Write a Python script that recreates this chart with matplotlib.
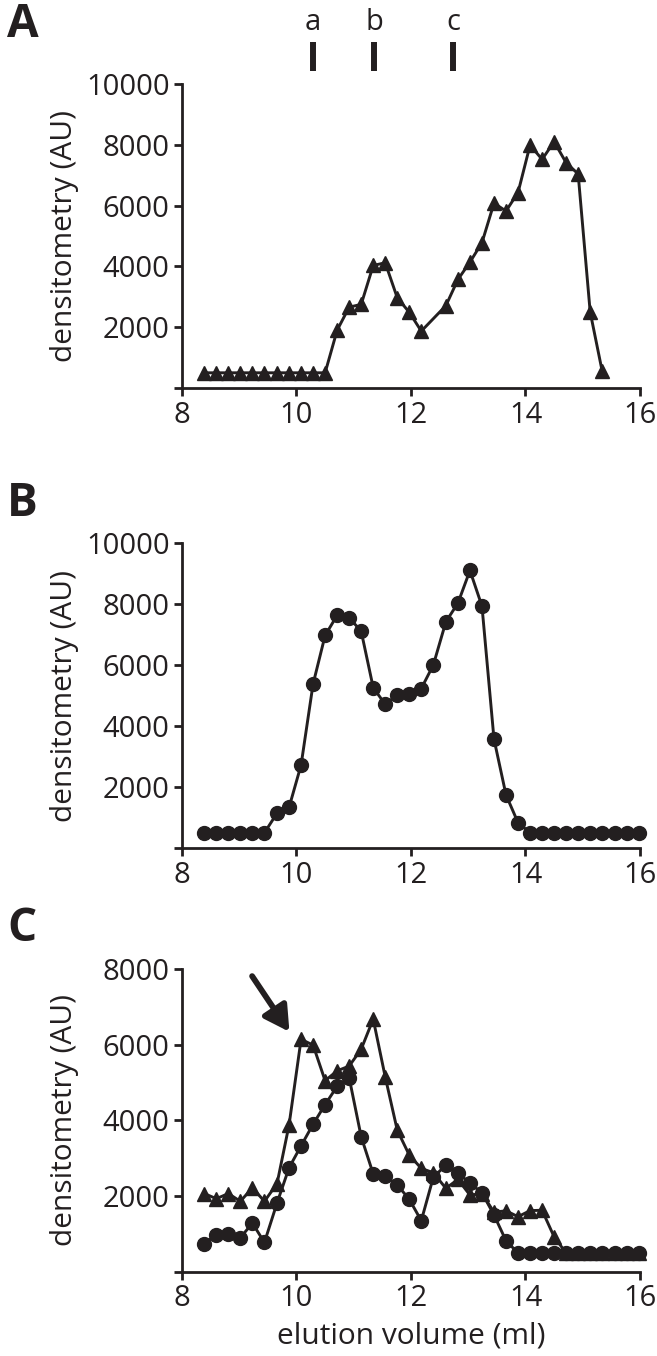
import matplotlib
matplotlib.use('Agg')
import matplotlib.pyplot as plt
import matplotlib.transforms as mtransforms

plt.rcParams['font.family'] = ['Open Sans', 'DejaVu Sans']

# elution volumes (ml) of the collected fractions
fractions = [8.39, 8.60, 8.81, 9.02, 9.23, 9.44, 9.66, 9.87, 10.08, 10.29,
             10.50, 10.71, 10.92, 11.13, 11.34, 11.55, 11.76, 11.97, 12.18, 12.39,
             12.61, 12.82, 13.03, 13.24, 13.45, 13.66, 13.87, 14.08, 14.29, 14.50,
             14.71, 14.92, 15.13, 15.34, 15.56, 15.77, 15.98]

# panel A (triangles), one fraction (12.39) not measured
vol_a = [8.39, 8.60, 8.81, 9.02, 9.23, 9.44, 9.66, 9.87, 10.08, 10.29,
         10.50, 10.71, 10.92, 11.13, 11.34, 11.55, 11.76, 11.97, 12.18,
         12.61, 12.82, 13.03, 13.24, 13.45, 13.66, 13.87, 14.08, 14.29, 14.50,
         14.71, 14.92, 15.13, 15.34]
dens_a = [500, 500, 500, 500, 500, 500, 500, 500, 500, 500,
          500, 1900, 2660, 2750, 4030, 4120, 2970, 2490, 1870,
          2710, 3570, 4140, 4780, 6080, 5820, 6430, 7990, 7520, 8100,
          7410, 7040, 2500, 550]

# panel B (circles)
dens_b = [500, 500, 500, 500, 500, 500, 1140, 1330, 2720, 5380,
          6970, 7630, 7550, 7110, 5260, 4710, 5020, 5060, 5230, 6000,
          7420, 8030, 9100, 7930, 3570, 1740, 830, 500, 500, 500,
          500, 500, 500, 500, 500, 500, 500]

# panel C, circles and triangles
dens_c_circ = [750, 985, 994, 906, 1290, 780, 1820, 2750, 3330, 3900,
               4420, 4900, 5130, 3570, 2590, 2530, 2300, 1918, 1355, 2500,
               2823, 2620, 2340, 2093, 1504, 826, 500, 500, 500, 500,
               500, 500, 500, 500, 500, 500, 500]
dens_c_tri = [2070, 1935, 2070, 1865, 2225, 1865, 2330, 3880, 6140, 5990,
              5050, 5310, 5435, 5880, 6675, 5150, 3745, 3087, 2735, 2620,
              2208, 2445, 2030, 2070, 1580, 1615, 1460, 1620, 1630, 930,
              500, 500, 500, 500, 500, 500, 500]

# marker positions (ml) shown above panel A
std_pos = [10.29, 11.36, 12.74]
std_labels = ['a', 'b', 'c']

ink = '#231f20'
fs = 21

fig = plt.figure(figsize=(6.57, 13.56), dpi=100)
left, width = 0.2770, 0.6971
ax_a = fig.add_axes([left, 0.71386, width, 0.2242])
ax_b = fig.add_axes([left, 0.37463, width, 0.2249])
ax_c = fig.add_axes([left, 0.06195, width, 0.2235])


def style(ax, ymax):
    ax.set_xlim(8, 16)
    ax.set_ylim(0, ymax)
    ax.set_xticks([8, 10, 12, 14, 16])
    yt = list(range(0, ymax + 1, 2000))
    ax.set_yticks(yt)
    ax.set_yticklabels([''] + [str(v) for v in yt[1:]])
    for s in ['top', 'right']:
        ax.spines[s].set_visible(False)
    for s in ['left', 'bottom']:
        ax.spines[s].set_linewidth(2)
        ax.spines[s].set_color(ink)
    ax.tick_params(direction='out', length=6, width=2, color=ink,
                   labelsize=fs, labelcolor=ink, pad=3)
    ax.set_ylabel('densitometry (AU)', fontsize=fs + 0.5, color=ink)
    ax.yaxis.set_label_coords(-0.225, 0.5)


line_kw = dict(color=ink, lw=2.1, ms=10, mec=ink, clip_on=False)

ax_a.plot(vol_a, dens_a, marker='^', **line_kw)
style(ax_a, 10000)

ax_b.plot(fractions, dens_b, marker='o', **line_kw)
style(ax_b, 10000)

ax_c.plot(fractions, dens_c_tri, marker='^', **line_kw)
ax_c.plot(fractions, dens_c_circ, marker='o', **line_kw)
style(ax_c, 8000)
ax_c.set_xlabel('elution volume (ml)', fontsize=fs + 0.5, color=ink, labelpad=6)

# standards above panel A
trans = mtransforms.blended_transform_factory(ax_a.transData, ax_a.transAxes)
for x, lab in zip(std_pos, std_labels):
    ax_a.plot([x, x], [1.043, 1.138], transform=trans, color=ink, lw=4.3,
              solid_capstyle='butt', clip_on=False)
    ax_a.text(x, 1.178, lab, transform=trans, ha='center', va='baseline',
              fontsize=fs, color=ink)

# arrow in panel C
ax_c.annotate('', xy=(9.877, 6340), xytext=(9.225, 7810),
              arrowprops=dict(arrowstyle='-|>,head_length=0.5,head_width=0.28',
                              lw=4.2, color=ink, mutation_scale=30,
                              shrinkA=0, shrinkB=0),
              annotation_clip=False)

for lab, y in [('A', 0.9816), ('B', 0.629), ('C', 0.3149)]:
    fig.text(0.034, y, lab, fontsize=33, fontweight='bold', color=ink,
             ha='center', va='center')

fig.savefig('out.png', dpi=100)
